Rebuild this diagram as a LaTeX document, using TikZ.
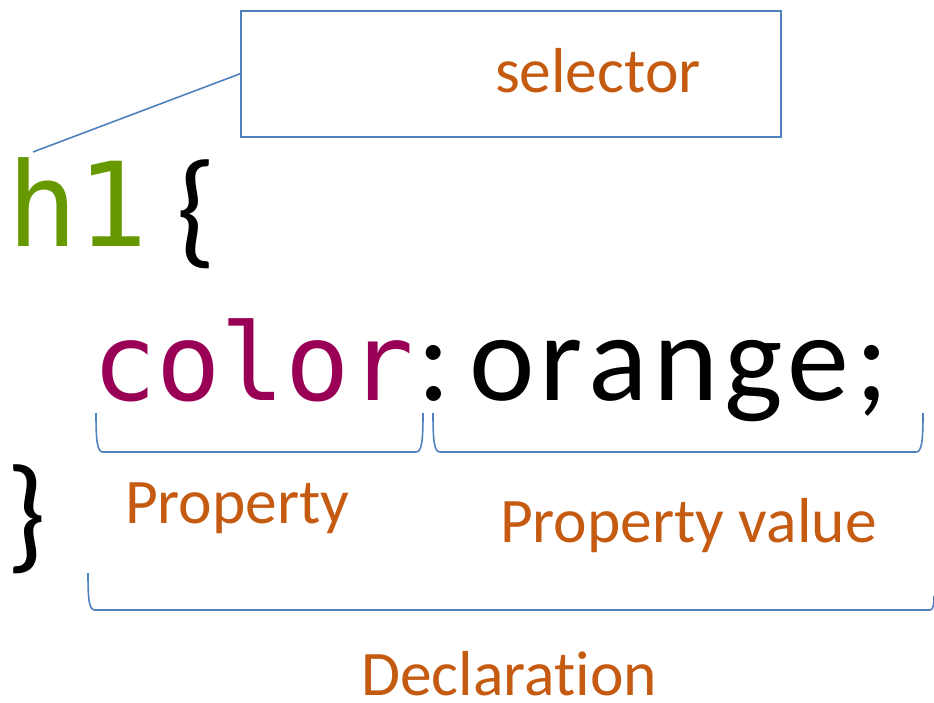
\documentclass[tikz,border=0pt]{standalone}
\usepackage{fontspec}
\setmainfont{Carlito}[Ligatures=NoCommon]
\newfontfamily\codemono{DejaVu Sans Mono}
\definecolor{penblue}{HTML}{4F81BD}
\definecolor{lblorange}{HTML}{C55A11}
\definecolor{selgreen}{HTML}{669900}
\definecolor{propmag}{HTML}{990055}
\tikzset{
  pen/.style={draw=penblue, line width=1.6pt},
  txt/.style={inner sep=0pt, outer sep=0pt, anchor=base west},
  lbl/.style={txt, text=lblorange, font=\fontsize{63.5}{70}\selectfont},
}
\newcommand{\trk}{\kern5.5pt}
\begin{document}
\begin{tikzpicture}[x=1pt,y=-1pt]
\useasboundingbox (0,0) rectangle (934,703);
% selector box
\node[pen, minimum width=540pt, minimum height=126pt, inner sep=0pt, anchor=north west] (selbox) at (240,10) {};
\node[lbl] (seltxt) at (495,93) {selector};
% code
\node[txt, text=selgreen, font=\codemono\fontsize{117}{130}\selectfont] (h1) at (7,247) {h1};
\node[txt, font=\fontsize{127}{130}\selectfont] (lbrace) at (176,252) {\{};
\node[txt, text=propmag, font=\codemono\fontsize{107}{120}\selectfont] (prop) at (92,400) {color};
\node[txt, font=\fontsize{124}{130}\selectfont] (colon) at (417,400) {:};
\node[txt, font=\fontsize{124}{130}\selectfont] (val) at (469,400) {o\trk r\trk a\trk n\trk g\trk e\trk ;};
\node[txt, font=\fontsize{127}{130}\selectfont] (rbrace) at (6,556) {\}};
\coordinate (h1tip) at (33,152);
\draw[pen] (selbox.west) -- (h1tip);
% brackets
\draw[pen] (96,413) .. controls (96,440) and (97,452) .. (103,452) -- (416,452) .. controls (422,452) and (423,440) .. (423,413);
\draw[pen] (433,413) .. controls (433,440) and (434,452) .. (440,452) -- (916,452) .. controls (922,452) and (923,440) .. (923,413);
\draw[pen] (88,573) .. controls (88,600) and (89,610) .. (95,610) -- (930,610) .. controls (933,610) and (934,605) .. (934,596);
% labels
\node[lbl] (proplbl) at (125,523) {Property};
\node[lbl] (vallbl) at (500,542) {Property value};
\node[lbl] (decl) at (361,695) {Declaration};
\end{tikzpicture}
\end{document}
